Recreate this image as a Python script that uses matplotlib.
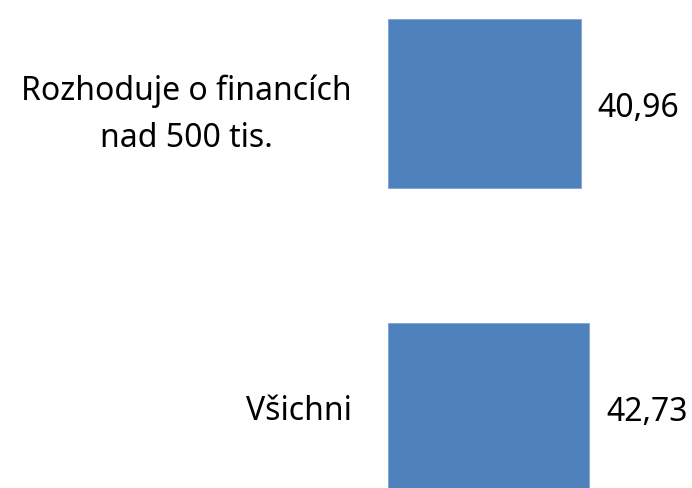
import matplotlib
matplotlib.use('Agg')
import matplotlib.pyplot as plt

# data
categories = ['Všichni', 'Rozhoduje o financích\nnad 500 tis.']
values = [42.73, 40.96]

plt.rcParams['font.family'] = ['Noto Sans', 'DejaVu Sans']

fig = plt.figure(figsize=(6.92, 4.88), dpi=100)
ax = fig.add_axes([388 / 692, 0, 1 - 388 / 692, 1])

pos = list(range(len(categories)))
bars = ax.barh(pos, values, height=0.555, color='#4F81BD', edgecolor='#7FA3D3', linewidth=0.6)

ax.set_xlim(0, 64.5)
ax.set_ylim(-0.2646, 1.341)

ax.set_yticks(pos)
ax.set_yticklabels(categories, fontsize=23)
for lbl in ax.get_yticklabels():
    lbl.set_multialignment('center')
    lbl.set_linespacing(1.55)
ax.tick_params(axis='y', length=0, pad=26)
ax.set_xticks([])

# value labels, comma as decimal sign
txts = ax.bar_label(bars, labels=[('%.2f' % v).replace('.', ',') for v in values],
                    padding=12, fontsize=23)
for t in txts:
    t.xyann = (12, -3.5)

for s in ax.spines.values():
    s.set_visible(False)

fig.savefig('out.png', dpi=100)
